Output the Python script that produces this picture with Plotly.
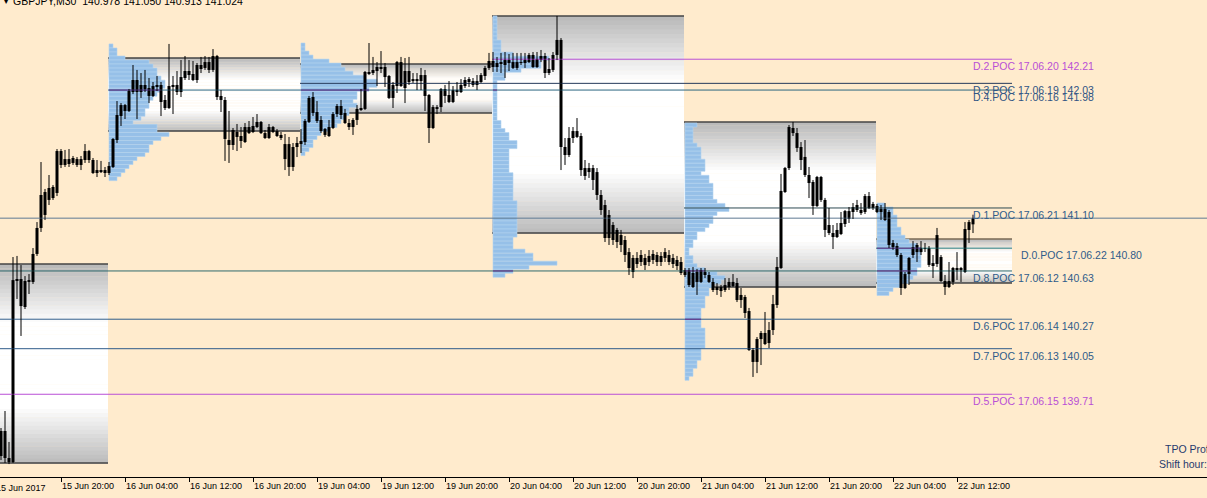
import plotly.graph_objects as go

# ---------------- data ----------------
bar_open = [139.436,139.436,139.204,139.204,140.570,140.570,140.361,140.548,140.548,140.757,
 140.951,141.219,141.160,141.257,141.212,141.525,141.421,141.465,141.436,141.465,
 141.421,141.458,141.525,141.458,141.361,141.383,141.383,141.361,141.406,141.607,
 141.786,141.868,141.824,141.965,142.055,141.965,142.018,141.995,141.936,142.003,
 142.018,141.906,141.846,142.003,142.018,141.965,142.070,142.122,142.100,142.055,
 142.167,142.145,142.189,142.130,142.234,141.936,141.906,141.607,141.570,141.667,
 141.637,141.592,141.704,141.667,141.704,141.742,141.659,141.622,141.704,141.674,
 141.645,141.577,141.577,141.406,141.555,141.600,141.592,141.742,141.928,141.816,
 141.757,141.689,141.637,141.697,141.801,141.861,141.809,141.734,141.704,141.757,
 141.831,141.839,142.115,142.107,142.122,142.152,142.152,142.085,141.921,142.010,
 142.189,141.995,142.122,142.062,142.047,142.047,142.092,141.943,141.697,141.853,
 141.853,141.988,141.943,141.891,141.980,141.965,142.010,142.040,142.047,142.018,
 142.040,142.085,142.145,142.197,142.152,142.189,142.167,142.204,142.189,142.145,
 142.189,142.182,142.189,142.242,142.152,142.204,142.234,142.107,142.130,142.242,
 142.354,141.555,141.495,141.622,141.674,141.637,141.398,141.368,141.398,141.368,
 141.197,141.122,140.876,140.973,140.936,140.898,140.861,140.771,140.727,140.682,
 140.697,140.727,140.697,140.712,140.749,140.697,140.727,140.749,140.727,140.712,
 140.697,140.637,140.637,140.510,140.622,140.548,140.622,140.600,140.548,140.510,
 140.480,140.488,140.510,140.548,140.540,140.413,140.436,140.331,140.040,139.951,
 140.122,140.167,140.092,140.189,140.376,140.652,141.219,141.398,141.697,141.659,
 141.555,141.481,141.346,141.294,141.115,141.331,141.160,140.973,140.913,140.883,
 140.906,140.980,141.077,141.070,141.085,141.085,141.070,141.189,141.130,141.115,
 141.092,141.092,141.070,140.839,140.816,140.749,140.503,140.607,140.749,140.824,
 140.771,140.801,140.801,140.689,140.682,140.734,140.555,140.510,140.548,140.652,
 140.637,140.622,140.936,140.978]
bar_high = [139.458,139.585,139.354,140.734,140.742,140.674,140.592,140.607,140.801,140.995,
 141.443,141.242,141.346,141.271,141.540,141.540,141.533,141.540,141.488,141.480,
 141.488,141.577,141.533,141.473,141.458,141.451,141.406,141.443,141.622,141.898,
 141.883,141.876,141.988,142.167,142.130,142.107,142.130,142.070,142.040,142.085,
 142.040,141.943,142.324,142.085,142.122,142.204,142.234,142.204,142.197,142.182,
 142.227,142.234,142.227,142.286,142.242,141.980,141.928,141.824,141.697,141.727,
 141.704,141.734,141.749,141.779,141.801,141.749,141.682,141.727,141.712,141.689,
 141.667,141.652,141.630,141.585,141.630,141.689,141.764,141.936,141.965,141.898,
 141.786,141.697,141.757,141.816,141.876,141.906,141.839,141.764,141.771,141.868,
 141.988,142.122,142.331,142.227,142.189,142.271,142.182,142.092,142.040,142.197,
 142.227,142.219,142.227,142.107,142.107,142.145,142.130,141.950,141.868,141.868,
 141.995,142.018,142.047,142.010,142.040,142.062,142.077,142.077,142.070,142.092,
 142.107,142.160,142.257,142.264,142.227,142.257,142.264,142.249,142.257,142.257,
 142.257,142.257,142.257,142.264,142.264,142.279,142.257,142.219,142.264,142.533,
 142.368,141.622,141.704,141.704,141.771,141.659,141.458,141.436,141.421,141.398,
 141.234,141.160,141.085,140.995,140.951,140.936,140.891,140.801,140.749,140.771,
 140.786,140.757,140.786,140.786,140.771,140.771,140.801,140.786,140.757,140.742,
 140.734,140.652,140.652,140.660,140.645,140.652,140.652,140.622,140.577,140.540,
 140.525,140.577,140.577,140.607,140.577,140.503,140.451,140.354,140.055,140.137,
 140.182,140.324,140.249,140.451,140.734,141.354,141.406,141.719,141.742,141.697,
 141.592,141.607,141.406,141.309,141.339,141.339,141.175,141.100,140.973,140.988,
 141.070,141.085,141.107,141.137,141.160,141.137,141.204,141.219,141.145,141.130,
 141.122,141.137,141.085,140.861,140.839,140.764,140.622,140.734,140.853,140.839,
 140.853,140.839,140.816,140.749,140.951,140.749,140.600,140.697,140.660,140.771,
 140.660,140.995,141.010,141.050]
bar_low = [139.219,139.197,139.189,139.197,140.421,140.145,140.346,140.458,140.533,140.742,
 140.921,141.010,141.122,141.160,141.189,141.398,141.406,141.406,141.421,141.406,
 141.383,141.436,141.436,141.354,141.331,141.361,141.331,141.346,141.398,141.585,
 141.712,141.764,141.816,141.950,141.764,141.921,141.965,141.883,141.928,141.973,
 141.786,141.831,141.839,141.801,141.943,141.928,142.055,142.055,142.047,142.033,
 142.107,142.130,142.107,142.115,141.906,141.816,141.451,141.436,141.533,141.525,
 141.548,141.585,141.652,141.659,141.697,141.652,141.615,141.615,141.659,141.630,
 141.607,141.383,141.339,141.376,141.480,141.510,141.570,141.734,141.786,141.734,
 141.659,141.630,141.630,141.689,141.779,141.764,141.727,141.682,141.645,141.719,
 141.824,141.831,142.092,142.092,142.010,142.107,142.003,141.913,141.846,141.958,
 142.003,141.883,142.018,142.033,141.980,141.980,141.824,141.585,141.689,141.801,
 141.816,141.883,141.883,141.883,141.936,141.958,141.995,142.003,142.003,141.980,
 142.033,142.055,142.130,142.115,142.115,142.107,142.070,142.122,142.137,142.130,
 142.167,142.145,142.182,142.145,142.145,142.189,142.070,142.092,142.115,142.204,
 141.383,141.421,141.480,141.585,141.622,141.339,141.309,141.324,141.234,141.160,
 141.048,140.846,140.824,140.824,140.801,140.771,140.697,140.600,140.577,140.652,
 140.667,140.637,140.667,140.682,140.667,140.667,140.697,140.674,140.652,140.637,
 140.600,140.585,140.510,140.503,140.451,140.540,140.577,140.540,140.473,140.451,
 140.436,140.473,140.488,140.510,140.398,140.354,140.279,140.033,139.839,139.868,
 139.928,140.077,140.055,140.152,140.354,140.645,141.212,141.383,141.637,141.518,
 141.383,141.331,141.174,141.048,141.107,141.145,140.883,140.898,140.794,140.876,
 140.898,140.958,140.988,141.018,141.070,141.048,141.055,141.092,141.085,141.062,
 141.010,141.003,140.801,140.787,140.734,140.451,140.495,140.525,140.727,140.697,
 140.749,140.771,140.660,140.577,140.660,140.548,140.451,140.503,140.525,140.563,
 140.548,140.615,140.839,140.913]
bar_close = [139.249,139.234,139.234,140.562,140.555,140.368,140.555,140.562,140.757,140.951,
 141.197,141.048,141.249,141.174,141.525,141.421,141.465,141.428,141.473,141.421,
 141.465,141.525,141.458,141.361,141.383,141.368,141.361,141.413,141.615,141.794,
 141.868,141.824,141.973,142.055,141.965,142.018,141.988,141.936,142.010,142.018,
 141.891,141.846,142.010,142.018,141.965,142.077,142.122,142.092,142.055,142.167,
 142.137,142.189,142.130,142.234,141.928,141.906,141.615,141.570,141.682,141.630,
 141.600,141.704,141.659,141.712,141.742,141.659,141.622,141.704,141.667,141.637,
 141.622,141.465,141.406,141.555,141.585,141.577,141.749,141.921,141.809,141.749,
 141.674,141.645,141.704,141.801,141.861,141.794,141.734,141.704,141.757,141.839,
 141.846,142.115,142.100,142.130,142.152,142.137,142.077,141.921,142.018,142.189,
 142.010,142.122,142.040,142.047,142.062,142.092,141.936,141.697,141.853,141.839,
 141.988,141.936,141.891,141.980,141.965,142.018,142.055,142.062,142.018,142.047,
 142.092,142.145,142.197,142.152,142.182,142.174,142.204,142.182,142.145,142.189,
 142.182,142.204,142.242,142.152,142.212,142.234,142.107,142.137,142.242,142.354,
 141.555,141.495,141.622,141.674,141.630,141.383,141.339,141.398,141.309,141.197,
 141.085,140.876,141.048,140.861,140.846,140.824,140.749,140.652,140.622,140.727,
 140.749,140.674,140.742,140.757,140.697,140.742,140.771,140.697,140.682,140.667,
 140.615,140.600,140.525,140.615,140.548,140.637,140.600,140.548,140.488,140.488,
 140.510,140.525,140.548,140.518,140.413,140.451,140.316,140.040,139.951,140.122,
 140.167,140.085,140.189,140.383,140.660,141.227,141.398,141.704,141.659,141.548,
 141.458,141.346,141.286,141.115,141.331,141.160,140.936,140.913,140.883,140.936,
 140.988,141.077,141.018,141.107,141.122,141.062,141.189,141.100,141.100,141.070,
 141.070,141.010,140.824,140.809,140.749,140.503,140.607,140.727,140.809,140.771,
 140.801,140.794,140.675,140.667,140.898,140.555,140.510,140.555,140.652,140.637,
 140.652,140.943,140.995,141.024]

header_text = "GBPJPY,M30  140.978 141.050 140.913 141.024"

tick_bars = [15, 31, 47, 63, 79, 95, 111, 127, 143, 159, 175, 191, 207, 223, 239]
tick_labels = ["15 Jun 20:00", "16 Jun 04:00", "16 Jun 12:00", "16 Jun 20:00",
               "19 Jun 04:00", "19 Jun 12:00", "19 Jun 20:00", "20 Jun 04:00",
               "20 Jun 12:00", "20 Jun 20:00", "21 Jun 04:00", "21 Jun 12:00",
               "21 Jun 20:00", "22 Jun 04:00", "22 Jun 12:00"]
first_tick_bar = -1
first_tick_label = "15 Jun 2017"

# day profile boxes (15,16,19,20,21,22 Jun)
day_start = [-21, 27, 75, 123, 171, 219]
day_end = [27, 75, 123, 171, 219, 253]
box_high = [140.682, 142.219, 142.174, 142.533, 141.742, 140.868]
box_low = [139.197, 141.674, 141.809, 140.913, 140.510, 140.540]

# TPO histograms (16,19,20,21,22 Jun): top price of first row, counts per 0.03 row
row_step = 0.03
prof_day = [1, 2, 3, 4, 5]
prof_top = [142.324, 142.331, 142.533, 141.734, 141.137]
prof_counts = [
    [1,2,2,4,10,11,12,12,13,14,14,13,12,11,10,10,9,9,8,6,12,12,15,13,11,10,10,9,7,6,5,4,3,2],
    [1,1,2,3,7,10,11,13,16,19,19,17,14,14,13,14,12,12,11,10,9,7,5,4,3,3,2,1],
    [1,1,1,1,1,1,2,2,2,5,14,12,12,7,3,3,1,1,1,1,1,1,1,1,1,1,2,2,3,4,4,6,6,
     4,4,4,4,4,4,5,5,5,5,5,5,5,6,6,6,6,6,6,6,6,6,5,5,5,8,10,10,16,9,5,3],
    [3,2,2,2,2,3,4,4,4,5,5,5,4,6,6,7,7,7,7,8,10,11,8,7,7,6,5,3,3,2,2,1,1,2,2,3,
     5,8,10,9,7,6,6,5,5,5,4,4,4,4,4,5,5,5,5,5,4,4,4,3,3,2,2,1],
    [2,4,4,5,5,5,6,6,7,8,10,11,11,11,11,11,10,10,9,8,6,4,3],
]

# POC levels
poc_text = ["D.2.POC 17.06.20 142.21", "D.3.POC 17.06.19 142.03", "D.4.POC 17.06.16 141.98",
            "D.1.POC 17.06.21 141.10", "D.0.POC 17.06.22 140.80", "D.8.POC 17.06.12 140.63",
            "D.6.POC 17.06.14 140.27", "D.7.POC 17.06.13 140.05", "D.5.POC 17.06.15 139.71"]
poc_price = [142.21, 142.03, 141.98, 141.10, 140.80, 140.63, 140.27, 140.05, 139.71]
poc_from = [123, 75, 27, 171, 219, -40, -40, -40, -40]
poc_to = 253
poc_line_color = ["#B94FD6", "#24395A", "#2C6680", "#2F4A52", "#2A7F80", "#2E6A6C",
                  "#2F5C8A", "#2F5C8A", "#B94FD6"]
poc_text_color = ["#B94FD6", "#2F5484", "#2F5484", "#2F5C8A", "#2F5C8A", "#2F5C8A",
                  "#2F5C8A", "#2F5C8A", "#B94FD6"]
poc_over_profile = [False, False, True, False, True, True, True, False, False]
poc_label_bar = [242.75, 242.75, 242.75, 242.75, 254.75, 242.75, 242.75, 242.75, 242.75]
bid_price = 141.024

# ---------------- figure ----------------
BG = "#FFEBCD"
FONT = "Liberation Sans, Arial, sans-serif"
X0, X1 = -0.25, 301.5
Y0, Y1 = 139.0925, 142.652
n = len(bar_open)
idx = list(range(n))

fig = go.Figure()
shapes = []

# gradient boxes
NB = 48
def shade(t):
    if t < 0.3:
        g = 184 + 71 * t / 0.3
    elif t <= 0.72:
        g = 255
    else:
        g = 255 - 69 * (t - 0.72) / 0.28
    g = int(round(g))
    return f"rgb({g},{g},{g})"

for k in range(len(day_start)):
    hi, lo = box_high[k], box_low[k]
    h = hi - lo
    xa, xb = day_start[k] - 0.25, day_end[k] - 0.25
    for j in range(NB):
        t = (j + 0.5) / NB
        shapes.append(dict(type="rect", xref="x", yref="y", x0=xa, x1=xb,
                           y0=hi - h * j / NB, y1=hi - h * (j + 1) / NB - h * 0.002,
                           fillcolor=shade(t), line=dict(width=0), layer="below"))
    top_col = "#7A6A55" if k == len(day_start) - 1 else "#444444"
    shapes.append(dict(type="line", xref="x", yref="y", x0=xa, x1=xb, y0=hi, y1=hi,
                       line=dict(color=top_col, width=1.5), layer="below"))
    shapes.append(dict(type="line", xref="x", yref="y", x0=xa, x1=xb, y0=lo, y1=lo,
                       line=dict(color="#444444", width=1.5), layer="below"))

# TPO profiles
py, px, pb = [], [], []
for d, top, counts in zip(prof_day, prof_top, prof_counts):
    for r, c in enumerate(counts):
        py.append(top - (r + 0.5) * row_step)
        px.append(c)
        pb.append(day_start[d])
fig.add_trace(go.Bar(orientation="h", y=py, x=px, base=pb, width=row_step,
                     marker=dict(color="#96C0E8", line=dict(color="#B4D3F0", width=0.6)),
                     hoverinfo="skip"))

# bid line
fig.add_trace(go.Scatter(x=[X0, X1], y=[bid_price, bid_price], mode="lines",
                         line=dict(color="#5F7A94", width=1), hoverinfo="skip"))
# POC lines
for p, f, col in zip(poc_price, poc_from, poc_line_color):
    fig.add_trace(go.Scatter(x=[f - 0.25, poc_to - 0.25], y=[p, p], mode="lines",
                             line=dict(color=col, width=1), hoverinfo="skip"))

# where a POC line crosses a TPO histogram the platform draws it in a purple tint
for p, f, over in zip(poc_price, poc_from, poc_over_profile):
    if not over:
        continue
    for d, top, counts in zip(prof_day, prof_top, prof_counts):
        s = day_start[d]
        if s < f:
            continue
        r = int((top - p) / row_step)
        if 0 <= r < len(counts):
            fig.add_trace(go.Scatter(x=[s, s + counts[r]], y=[p, p], mode="lines",
                                     line=dict(color="#6B2C8A", width=1), hoverinfo="skip"))

# candles: wicks
wx, wy = [], []
for i in idx:
    wx += [i, i, None]
    wy += [bar_low[i], bar_high[i], None]
fig.add_trace(go.Scatter(x=wx, y=wy, mode="lines", line=dict(color="black", width=1),
                         hoverinfo="skip"))
# candles: bodies
b_base = [min(o, c) for o, c in zip(bar_open, bar_close)]
b_h = [max(abs(c - o), 0.006) for o, c in zip(bar_open, bar_close)]
fig.add_trace(go.Bar(x=idx, y=b_h, base=b_base, width=0.75,
                     marker=dict(color="black", line=dict(width=0)), hoverinfo="skip"))

annotations = []
for txt, p, xb, col in zip(poc_text, poc_price, poc_label_bar, poc_text_color):
    annotations.append(dict(x=xb, y=p, xref="x", yref="y", text=txt, showarrow=False,
                            xanchor="left", yanchor="top", font=dict(family=FONT, size=10.5, color=col),
                            borderpad=0))
plot_h = 477
annotations.append(dict(x=(first_tick_bar - X0) / (X1 - X0), xshift=-3, y=(477 - 487.5) / plot_h,
                        xref="paper", yref="paper", text=first_tick_label, showarrow=False,
                        xanchor="left", yanchor="middle", font=dict(family=FONT, size=9, color="black")))
annotations.append(dict(x=11 / 1207, y=1, yshift=-1, xref="paper", yref="paper", text=header_text,
                        showarrow=False, xanchor="left", yanchor="middle",
                        font=dict(family=FONT, size=10.5, color="black")))
annotations.append(dict(x=1.0 / 1207, y=1, yshift=0, xref="paper", yref="paper", text="▼",
                        showarrow=False, xanchor="left", yanchor="middle",
                        font=dict(family="DejaVu Sans", size=8, color="black")))
annotations.append(dict(x=1163 / 1207, y=1 - 449 / plot_h, xref="paper", yref="paper",
                        text="TPO Profile", showarrow=False, xanchor="left", yanchor="middle",
                        font=dict(family=FONT, size=10.5, color="#1F3A6E")))
annotations.append(dict(x=1157 / 1207, y=1 - 464 / plot_h, xref="paper", yref="paper",
                        text="Shift hour: 2", showarrow=False, xanchor="left", yanchor="middle",
                        font=dict(family=FONT, size=10.5, color="#1F3A6E")))

fig.update_layout(
    width=1207, height=498,
    margin=dict(l=0, r=0, t=0, b=21, pad=0),
    paper_bgcolor=BG, plot_bgcolor=BG,
    showlegend=False, hovermode=False, barmode="overlay",
    shapes=shapes, annotations=annotations,
    xaxis=dict(range=[X0, X1], showgrid=False, zeroline=False,
               tickvals=tick_bars, ticktext=tick_labels, ticks="outside", ticklen=4,
               tickcolor="black", tickwidth=1, showline=True, linecolor="black", linewidth=1,
               ticklabelposition="outside right",
               tickfont=dict(family=FONT, size=9, color="black"), fixedrange=True),
    yaxis=dict(range=[Y0, Y1], showgrid=False, zeroline=False, showticklabels=False,
               ticks="", showline=False, fixedrange=True),
)

fig.write_html("out.html", config={"displayModeBar": False, "staticPlot": True},
               post_script="document.body.style.margin='0';")
